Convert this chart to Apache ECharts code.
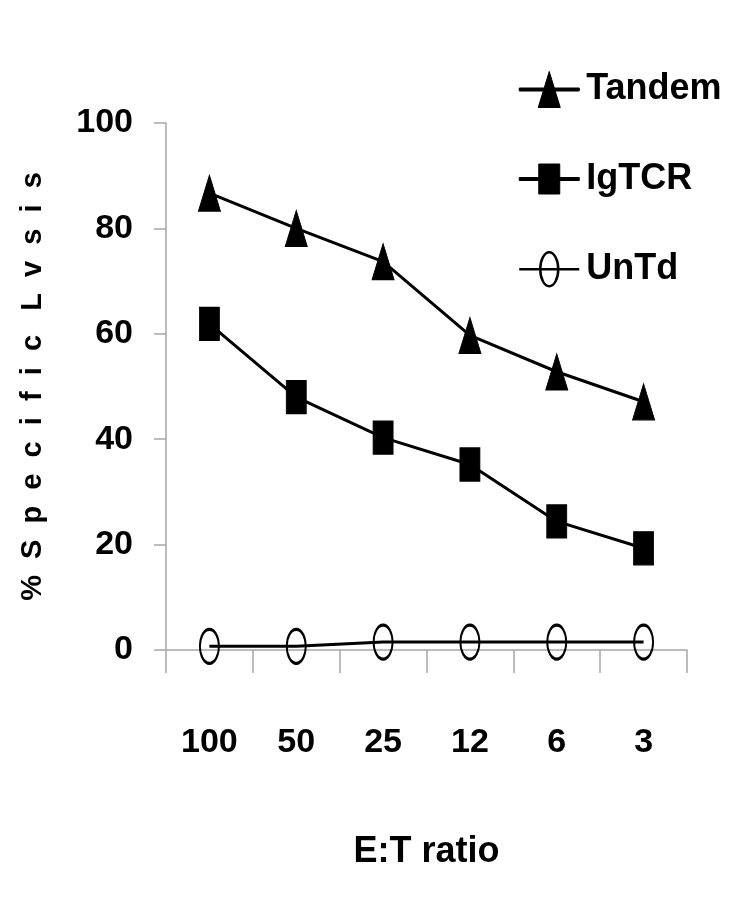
<!DOCTYPE html>
<html>
<head>
<meta charset="utf-8">
<script src="https://cdn.jsdelivr.net/npm/echarts@6/dist/echarts.min.js"></script>
<style>html,body{margin:0;padding:0;background:#fff}#c{width:750px;height:911px}</style>
</head>
<body>
<div id="c"></div>
<script>
var categories = ['100', '50', '25', '12', '6', '3'];
var tandem = [86.7, 80, 73.7, 59.7, 52.8, 47.1];
var igtcr = [61.9, 48.0, 40.3, 35.2, 24.4, 19.3];
var untd = [0.7, 0.7, 1.5, 1.5, 1.5, 1.5];
var yTicks = [0, 20, 40, 60, 80, 100];
var seriesNames = ['Tandem', 'IgTCR', 'UnTd'];

var FONT = '"Liberation Sans", Arial, sans-serif';
var chart = echarts.init(document.getElementById('c'), null, {renderer: 'canvas'});
var axisGray = '#a6a6a6';

var legendIcons = [
  'path://M0,16.5 L60,16.5 L60,19.5 L0,19.5 Z M30,0 L41,36 L19,36 Z',
  'path://M0,16.5 L60,16.5 L60,19.5 L0,19.5 Z M19.5,3 L40.5,3 L40.5,33 L19.5,33 Z',
  'path://M0,18 L21,18 M39,18 L60,18 M21,18 L39,18 M21,18 A9,17 0 1,0 39,18 A9,17 0 1,0 21,18 Z M30,0 L30,0 M30,36 L30,36'
];
var legendBorders = [1, 1, 2.5];

chart.setOption({
  backgroundColor: '#ffffff',
  animation: false,
  grid: {left: 166, right: 63, top: 123, bottom: 261, containLabel: false},
  legend: {
    orient: 'vertical',
    left: 513,
    top: 66,
    itemWidth: 60,
    itemHeight: 36,
    itemGap: 53,
    symbolKeepAspect: true,
    data: seriesNames.map(function (n, i) {
      return {name: n, icon: legendIcons[i], itemStyle: {borderWidth: legendBorders[i], borderColor: '#000'}};
    }),
    textStyle: {fontFamily: FONT, fontWeight: 'bold', fontSize: 36, lineHeight: 36, color: '#000', padding: [0, 0, 0, 2]}
  },
  xAxis: {
    type: 'category',
    data: categories,
    boundaryGap: true,
    name: 'E:T ratio',
    nameLocation: 'middle',
    nameGap: 184,
    nameTextStyle: {fontFamily: FONT, fontWeight: 'bold', fontSize: 36, color: '#000'},
    axisLine: {lineStyle: {color: axisGray, width: 1.5}},
    axisTick: {show: true, length: 23, inside: false, lineStyle: {color: axisGray, width: 1.5}},
    axisLabel: {fontFamily: FONT, fontWeight: 'bold', fontSize: 34, color: '#000', margin: 76},
    splitLine: {show: false}
  },
  yAxis: {
    type: 'value',
    min: 0,
    max: 100,
    interval: 20,
    name: '%  S  p  e  c  i  f  i  c   L  v  s  i  s',
    nameLocation: 'middle',
    nameRotate: 90,
    nameGap: 119,
    nameTextStyle: {fontFamily: FONT, fontWeight: 'bold', fontSize: 29, color: '#000'},
    axisLine: {show: true, lineStyle: {color: axisGray, width: 1.5}},
    axisTick: {show: true, length: 12, inside: false, lineStyle: {color: axisGray, width: 1.5}},
    axisLabel: {fontFamily: FONT, fontWeight: 'bold', fontSize: 34, color: '#000', margin: 33,
      formatter: function (v) { return yTicks.indexOf(v) >= 0 ? String(v) : ''; }},
    splitLine: {show: false}
  },
  series: [
    {
      name: seriesNames[0], type: 'line', data: tandem,
      symbol: 'triangle', symbolSize: [22, 36],
      lineStyle: {color: '#000', width: 3},
      itemStyle: {color: '#000', borderColor: '#000'}
    },
    {
      name: seriesNames[1], type: 'line', data: igtcr,
      symbol: 'rect', symbolSize: [20, 33],
      lineStyle: {color: '#000', width: 3},
      itemStyle: {color: '#000', borderColor: '#000'}
    },
    {
      name: seriesNames[2], type: 'line', data: untd,
      symbol: 'circle', symbolSize: [19, 34],
      showAllSymbol: true,
      lineStyle: {color: '#000', width: 3},
      itemStyle: {color: 'rgba(255,255,255,0)', borderColor: '#000', borderWidth: 2.5},
      z: 3
    }
  ]
});
</script>
</body>
</html>
